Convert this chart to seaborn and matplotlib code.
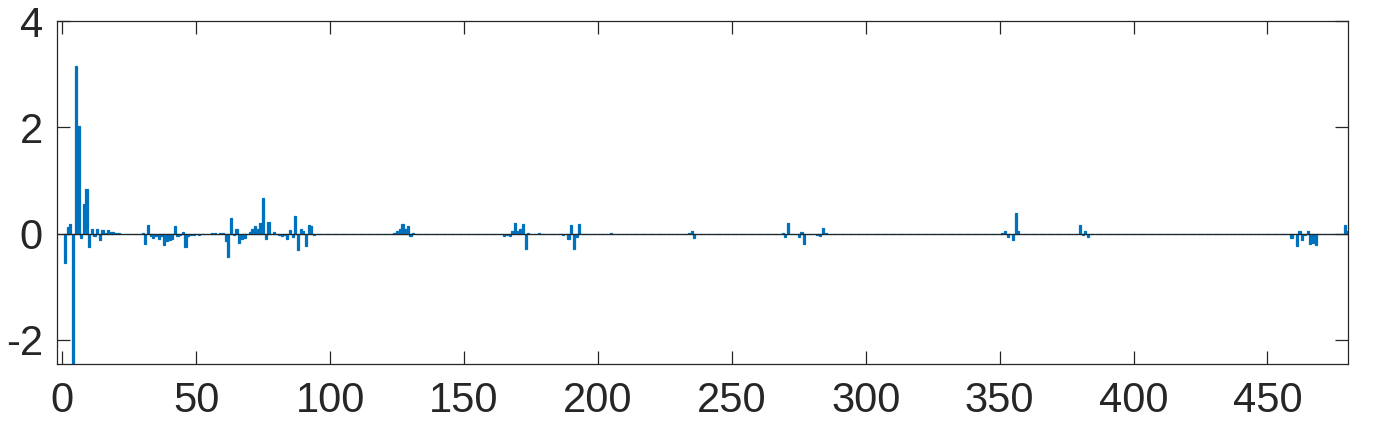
import numpy as np
import pandas as pd
import matplotlib
matplotlib.use('Agg')
import matplotlib.pyplot as plt
import seaborn as sns

# lags 1..480, only the non-zero coefficients are listed
n_lags = 480
spike_lag = [
    1, 2, 3, 4, 5, 6, 7, 8, 9, 10, 11, 12, 13, 14, 15, 16, 17, 18, 19, 20,
    21, 22, 23, 24, 25, 27, 29, 30, 31, 32, 33, 34, 35, 36, 37, 38, 39, 40,
    41, 42, 43, 44, 45, 46, 47, 48, 49, 50, 51, 52, 56, 57, 58, 59, 60,
    61, 62, 63, 64, 65, 66, 67, 68, 69, 70, 71, 72, 73, 74, 75, 76, 77, 79,
    80, 81, 82, 83, 84, 85, 86, 87, 88, 89, 90, 91, 92, 93, 94, 95, 98,
    119, 124, 125, 126, 127, 128, 129, 130, 131, 132, 133, 134,
    165, 166, 167, 168, 169, 170, 171, 172, 173, 174, 178,
    185, 187, 188, 189, 190, 191, 192, 193, 194, 195, 196, 205,
    234, 235, 236, 237, 243,
    266, 267, 268, 269, 270, 271, 275, 276, 277, 281, 282, 283, 284, 285,
    351, 352, 353, 354, 355, 356, 357, 358, 359,
    377, 379, 380, 381, 382, 383, 387, 388, 389,
    453, 459, 460, 461, 462, 463, 464, 465, 466, 467, 468, 469, 471, 472,
    479, 480,
]
spike_val = [
    -0.56, 0.13, 0.19, -2.9, 3.15, 2.02, -0.09, 0.55, 0.84, -0.26, 0.09, -0.05,
    0.08, -0.11, 0.07, 0.01, 0.07, 0.04, 0.04, 0.02,
    0.01, -0.01, -0.01, -0.01, -0.01, -0.01, -0.01, 0.02, -0.19, 0.17, -0.05,
    -0.08, -0.04, -0.10, -0.05, -0.21, -0.13, -0.12,
    -0.10, 0.15, -0.05, -0.03, 0.03, -0.26, -0.05, -0.02, -0.02, -0.01, -0.02,
    -0.01, 0.01, 0.01, -0.01, 0.01, 0.01,
    -0.13, -0.43, 0.30, -0.02, 0.09, -0.17, -0.10, -0.08, -0.01, 0.03, 0.08,
    0.15, 0.08, 0.21, 0.68, -0.10, 0.22, 0.04,
    -0.01, -0.02, -0.04, -0.03, -0.10, 0.07, -0.07, 0.34, -0.30, 0.09, 0.05,
    -0.24, 0.17, 0.14, -0.02, -0.01, -0.01,
    -0.01, 0.01, 0.06, 0.08, 0.19, 0.08, 0.15, -0.04, 0.02, -0.01, -0.01, -0.01,
    -0.05, -0.02, -0.05, 0.05, 0.21, 0.06, 0.09, 0.19, -0.29, 0.01, 0.01,
    -0.01, -0.02, -0.01, -0.10, 0.17, -0.29, -0.06, 0.19, -0.01, -0.01, -0.01, 0.01,
    0.01, 0.05, -0.08, -0.01, -0.01,
    -0.01, -0.01, -0.01, 0.02, -0.06, 0.20, -0.06, 0.03, -0.19, -0.01, -0.02,
    -0.05, 0.11, 0.01,
    0.02, 0.05, -0.06, -0.01, -0.12, 0.39, 0.05, -0.01, -0.01,
    -0.01, -0.01, 0.17, -0.02, 0.05, -0.06, -0.01, -0.01, -0.01,
    -0.01, -0.08, -0.01, -0.23, 0.05, -0.11, -0.02, 0.05, -0.20, -0.17, -0.22,
    -0.01, -0.01, -0.01,
    0.17, 0.05,
]

x_ticks = [0, 50, 100, 150, 200, 250, 300, 350, 400, 450]
y_ticks = [-2, 0, 2, 4]

bar_color = '#0072BD'
ink = '#262626'


def main():
    lag = np.arange(1, n_lags + 1)
    coef = np.zeros(n_lags)
    coef[np.array(spike_lag) - 1] = spike_val
    df = pd.DataFrame({'lag': lag, 'coef': coef})

    sns.set_style('white')
    plt.rcParams['font.family'] = ['Liberation Sans', 'DejaVu Sans']
    plt.rcParams['axes.unicode_minus'] = False

    fig = plt.figure(figsize=(13.74, 4.26), dpi=100)
    ax = fig.add_axes([0.0413, 0.1448, 0.94, 0.8052])

    sns.barplot(data=df, x='lag', y='coef', native_scale=True, color=bar_color,
                saturation=1, width=0.8, errorbar=None, linewidth=0.9,
                edgecolor=bar_color, ax=ax)

    ax.axhline(0, color=ink, lw=0.9, zorder=5)

    ax.set_xlim(-2.1, 480.2)
    ax.set_ylim(-2.46, 4)
    ax.set_xticks(x_ticks)
    ax.set_yticks(y_ticks)
    ax.set_xlabel('')
    ax.set_ylabel('')

    for side in ['top', 'bottom', 'left', 'right']:
        ax.spines[side].set_visible(True)
        ax.spines[side].set_color(ink)
        ax.spines[side].set_linewidth(0.9)

    ax.tick_params(direction='in', length=9.5, width=0.9, color=ink,
                   labelcolor=ink, labelsize=30, top=True, right=True,
                   bottom=True, left=True)
    ax.tick_params(axis='x', pad=12)
    ax.tick_params(axis='y', pad=10)

    fig.savefig('out.png', dpi=100)


if __name__ == '__main__':
    main()
